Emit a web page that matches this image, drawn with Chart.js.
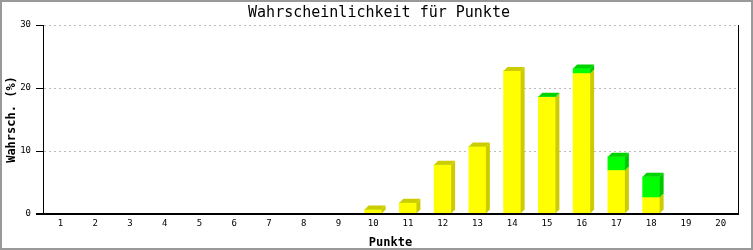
<!DOCTYPE html>
<html>
<head>
<meta charset="utf-8">
<script src="https://cdn.jsdelivr.net/npm/chart.js@4"></script>
<style>
  html, body { margin: 0; padding: 0; background: #fff; }
  #wrap { width: 753px; height: 250px; }
</style>
</head>
<body>
<div id="wrap"><canvas id="chart" width="753" height="250"></canvas></div>
<script>
// values
const punkte = ["1","2","3","4","5","6","7","8","9","10","11","12","13","14","15","16","17","18","19","20"];
const gelb = [0, 0, 0, 0, 0, 0, 0, 0, 0, 0.7, 1.8, 7.8, 10.7, 22.7, 18.5, 22.3, 6.9, 2.6, 0, 0];
const gruen = [0, 0, 0, 0, 0, 0, 0, 0, 0, 0, 0, 0, 0, 0, 0.12, 0.8, 2.2, 3.3, 0, 0];
const yTicks = [0, 10, 20, 30];

const mono = "'DejaVu Sans Mono', 'Liberation Mono', monospace";
const DEPTH = 4;

// draws side and top faces so the bars look like blocks
const blocks = {
	id: "blocks",
	afterDatasetsDraw(chart) {
		const ctx = chart.ctx;
		const metas = chart.data.datasets.map((ds, i) => chart.getDatasetMeta(i));
		ctx.save();
		metas.forEach((meta, di) => {
			const dark = chart.data.datasets[di].sideColor;
			meta.data.forEach((bar, idx) => {
				const v = chart.data.datasets[di].data[idx];
				if (!v) return;
				const p = bar.getProps(["x", "y", "base", "width"], true);
				const l = p.x - p.width / 2, r = p.x + p.width / 2;
				ctx.fillStyle = dark;
				ctx.beginPath();
				ctx.moveTo(r, p.y);
				ctx.lineTo(r + DEPTH, p.y - DEPTH);
				ctx.lineTo(r + DEPTH, p.base - DEPTH);
				ctx.lineTo(r, p.base);
				ctx.closePath();
				ctx.fill();
				// top cap only on the highest piece of the stack
				let top = true;
				for (let k = di + 1; k < metas.length; k++) {
					if (chart.data.datasets[k].data[idx]) top = false;
				}
				if (top) {
					ctx.fillStyle = chart.data.datasets[di].capColor;
					ctx.beginPath();
					ctx.moveTo(l, p.y);
					ctx.lineTo(l + DEPTH, p.y - DEPTH);
					ctx.lineTo(r + DEPTH, p.y - DEPTH);
					ctx.lineTo(r, p.y);
					ctx.closePath();
					ctx.fill();
				}
			});
		});
		// x axis line on top of everything at zero
		const a = chart.chartArea;
		ctx.strokeStyle = "#000";
		ctx.lineWidth = 2;
		ctx.beginPath();
		ctx.moveTo(a.left - 7, a.bottom);
		ctx.lineTo(a.right, a.bottom);
		ctx.stroke();
		ctx.restore();
	},
	afterDraw(chart) {
		const ctx = chart.ctx;
		ctx.save();
		ctx.strokeStyle = "#999";
		ctx.lineWidth = 2;
		ctx.strokeRect(1, 1, chart.width - 2, chart.height - 2);
		ctx.restore();
	}
};

new Chart(document.getElementById("chart"), {
	type: "bar",
	data: {
		labels: punkte,
		datasets: [
			{
				label: "gelb",
				data: gelb,
				backgroundColor: "#ffff00",
				sideColor: "#cccc00",
				capColor: "#cccc00",
				barThickness: 17,
				borderWidth: 0
			},
			{
				label: "grün",
				data: gruen,
				backgroundColor: "#00ff00",
				sideColor: "#00c800",
				capColor: "#00d400",
				barThickness: 17,
				borderWidth: 0
			}
		]
	},
	options: {
		responsive: false,
		animation: false,
		layout: { padding: { left: 5, right: 0, top: 0, bottom: 0 } },
		plugins: {
			legend: { display: false },
			tooltip: { enabled: false },
			title: {
				display: true,
				text: "Wahrscheinlichkeit für Punkte",
				color: "#000",
				font: { family: mono, size: 15, weight: "normal" },
				padding: { top: 4, bottom: 3 }
			}
		},
		scales: {
			x: {
				stacked: true,
				grid: { display: false, drawTicks: false },
				border: { display: false },
				ticks: {
					color: "#000",
					font: { family: mono, size: 9 },
					padding: 4,
					maxRotation: 0,
					autoSkip: false
				},
				title: {
					display: true,
					text: "Punkte",
					color: "#000",
					font: { family: mono, size: 12, weight: "bold" },
					padding: { top: 5, bottom: 0 }
				},
				afterFit(scale) { scale.height = 36; }
			},
			y: {
				stacked: true,
				min: 0,
				max: 30,
				afterBuildTicks(scale) { scale.ticks = yTicks.map(v => ({ value: v })); },
				grid: {
					color: (c) => (c.tick && c.tick.value === 0 ? "rgba(0,0,0,0)" : "#bbb"),
					tickColor: "#000",
					tickLength: 7,
					drawTicks: true
				},
				border: { display: true, color: "#000", width: 1, dash: [2, 3] },
				ticks: {
					color: "#000",
					font: { family: mono, size: 9 },
					padding: 5
				},
				title: {
					display: true,
					text: "Wahrsch. (%)",
					color: "#000",
					font: { family: mono, size: 12, weight: "bold" },
					padding: { top: 0, bottom: 0 }
				},
				afterFit(scale) { scale.width = 38; }
			},
			y2: {
				position: "right",
				min: 0,
				max: 30,
				grid: { display: false, drawTicks: false },
				border: { display: true, color: "#000", width: 1 },
				ticks: { display: false },
				afterFit(scale) { scale.width = 15; }
			}
		}
	},
	plugins: [blocks]
});
</script>
</body>
</html>
